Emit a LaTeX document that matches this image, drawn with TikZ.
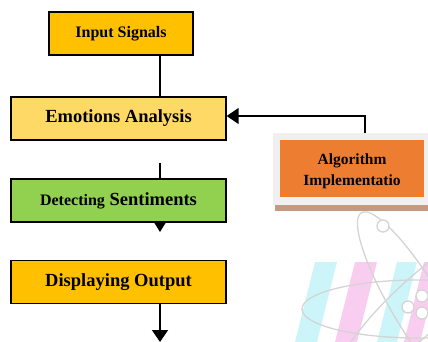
\documentclass[tikz,border=0pt]{standalone}
\usepackage{fontspec}
\setmainfont{Liberation Serif}
\usetikzlibrary{arrows.meta}
\definecolor{amber}{HTML}{FFC000}
\definecolor{sand}{HTML}{FFD966}
\definecolor{leaf}{HTML}{92D050}
\definecolor{rust}{HTML}{ED7D31}
\definecolor{shadowgrey}{HTML}{F0F0F0}
\definecolor{tan}{HTML}{C49A80}
\definecolor{wmcyan}{HTML}{CCF5FA}
\definecolor{wmpink}{HTML}{F9CDEF}
\definecolor{wmgrey}{HTML}{D4D4D4}
\tikzset{
  stepbox/.style={draw=black, line width=1.3pt, minimum height=43pt, inner sep=0pt,
    font=\fontsize{18.5}{20}\selectfont\bfseries, text=black},
  link/.style={line width=1.5pt},
  bigtip/.style={-{Triangle[length=12pt,width=16pt]}},
  smalltip/.style={-{Triangle[length=10pt,width=12pt]}}
}
\begin{document}
\begin{tikzpicture}[x=1pt,y=-1pt]
\useasboundingbox (0,0) rectangle (428,342);

% faint watermark in the lower right corner: stripes and an atom
\begin{scope}
  \clip (0,0) rectangle (428,342);
  \fill[wmcyan] (315,262) -- (337,262) -- (317,342) -- (295,342) -- cycle;
  \fill[wmpink] (355,262) -- (377,262) -- (357,342) -- (335,342) -- cycle;
  \fill[wmcyan] (397,262) -- (417,262) -- (397,342) -- (377,342) -- cycle;
  \fill[wmpink] (424,262) -- (440,262) -- (420,342) -- (404,342) -- cycle;
  \begin{scope}[draw=wmgrey, line width=1.3pt]
    \draw (418,309) ellipse [x radius=116, y radius=29];
    \draw[rotate around={121:(418,307)}] (418,307) ellipse [x radius=110, y radius=25];
    \draw[rotate around={43:(418,307)}] (418,307) ellipse [x radius=110, y radius=27];
    \draw[fill=white] (383,226) circle (6);
    \draw[fill=white] (408,307) circle (6);
    \draw[fill=white] (422,296) circle (6);
    \draw[fill=white] (422,313) circle (6);
  \end{scope}
\end{scope}

% main flow boxes
\node[stepbox, fill=amber, minimum width=144pt, font=\fontsize{16}{18}\selectfont\bfseries]
  (input) at (121,33.5) {Input Signals};
\node[stepbox, fill=sand, minimum width=215pt] (emotion) at (118.5,118.5) {Emotions Analysis};
\node[stepbox, fill=leaf, minimum width=215pt] (detect) at (118.5,200.5)
  {{\fontsize{16}{18}\selectfont Detecting} Sentiments};
\node[stepbox, fill=amber, minimum width=215pt] (display) at (118.5,282) {Displaying Output};

% side box with its frame and base strip
\fill[tan] (275,205) rectangle (428,211);
\fill[shadowgrey] (273,133) rectangle (428,205);
\node[fill=rust, minimum width=144pt, minimum height=57pt, inner sep=0pt, align=center,
  font=\fontsize{15.5}{21}\selectfont\bfseries] (algo) at (352,168.5) {};
\node[align=center, inner sep=0pt, font=\fontsize{15.5}{21}\selectfont\bfseries]
  (algotext) at (352,171) {Algorithm\\Implementatio};

% connectors
\coordinate (inputfoot) at (160,55);
\draw[link] (inputfoot) -- (inputfoot |- emotion.north);
\coordinate (algocorner) at (365,116);
\coordinate (algotop) at (365,133);
\draw[link, bigtip] (algotop) -- (algocorner) -- (algocorner -| emotion.east);
\coordinate (midstub) at (160,163);
\draw[link] (midstub) -- (midstub |- detect.north);
\coordinate (detfoot) at (160,222);
\draw[link, smalltip] (detfoot) -- (160,232);
\coordinate (dispfoot) at (160,304);
\draw[link, bigtip] (dispfoot) -- (160,342);
\end{tikzpicture}
\end{document}
